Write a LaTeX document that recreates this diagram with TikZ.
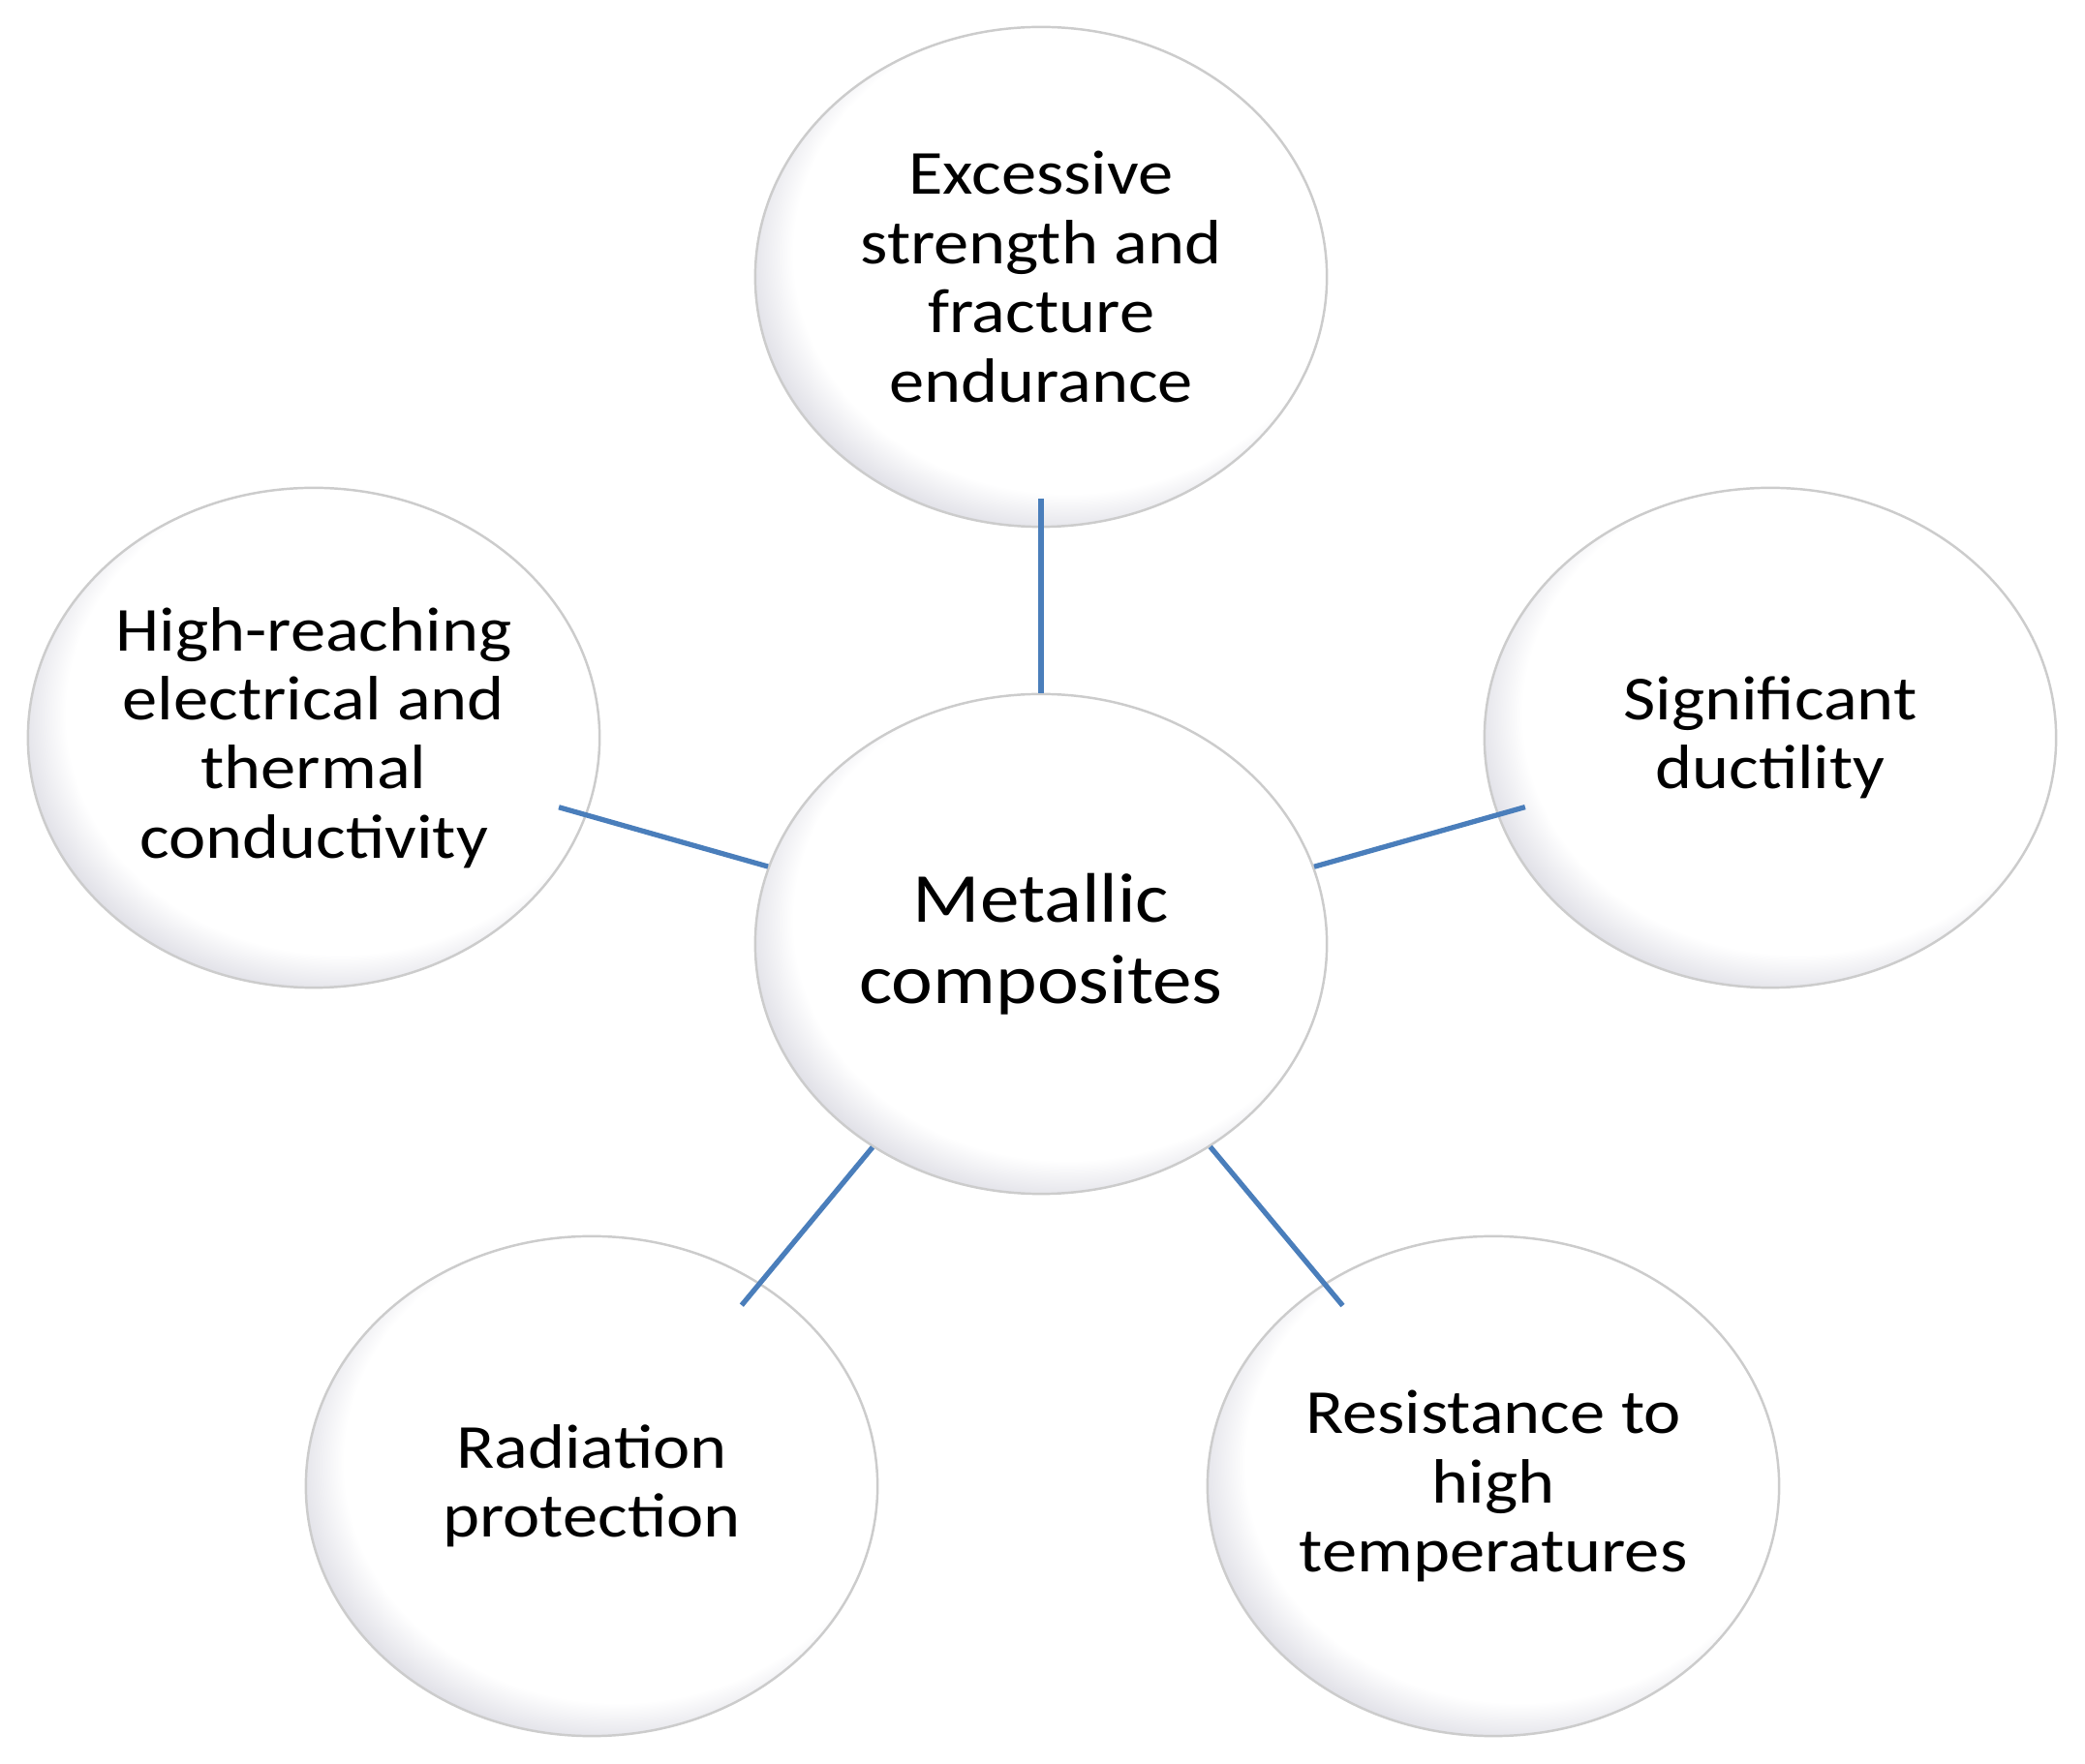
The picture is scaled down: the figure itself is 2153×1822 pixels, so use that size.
\documentclass[tikz,border=0pt]{standalone}
\usepackage{fontspec}
\setmainfont[FakeStretch=1.12]{Carlito}
\usetikzlibrary{shapes.geometric}

\definecolor{linkblue}{RGB}{74,126,187}
\definecolor{rimgrey}{RGB}{192,192,206}

% soft shading, grey towards the lower left rim
\pgfdeclareradialshading{ballshade}{\pgfpoint{4.5bp}{4.5bp}}{%
  color(0bp)=(white); color(24bp)=(white); color(27.5bp)=(rimgrey!45);
  color(31.5bp)=(rimgrey); color(50bp)=(rimgrey)}

\tikzset{
  bubble/.style={ellipse, minimum width=5.9cm, minimum height=5.16cm, inner sep=0pt,
    shade, shading=ballshade, draw=black!20, line width=0.7pt, align=center,
    font=\fontsize{18.4}{20.3}\selectfont},
  hub/.style={bubble, font=\fontsize{20.6}{23.8}\selectfont},
  link/.style={draw=linkblue, line width=1.5pt, shorten >=-0.3cm}
}

\begin{document}
\begin{tikzpicture}[x=0.01cm, y=-0.01cm]
        \useasboundingbox (0,0) rectangle (2153,1822);

        % 中心
        \node[hub] (metal) at (1075,975) {Metallic\\composites};

        % 周围五个性质
        \node[bubble] (strength) at (1075,286) {Excessive\\strength and\\fracture\\endurance};
        \node[bubble] (conduct) at (324,762) {High-reaching\\electrical and\\thermal\\conductivity};
        \node[bubble] (ductile) at (1828,762) {Significant\\ductility};
        \node[bubble] (radiation) at (611,1535) {Radiation\\protection};
        \node[bubble] (heat) at (1542,1535) {Resistance to\\high\\temperatures};

        % 连线
        \foreach \p in {strength, conduct, ductile, radiation, heat}
            \draw[link] (metal) -- (\p);
    \end{tikzpicture}
\end{document}
